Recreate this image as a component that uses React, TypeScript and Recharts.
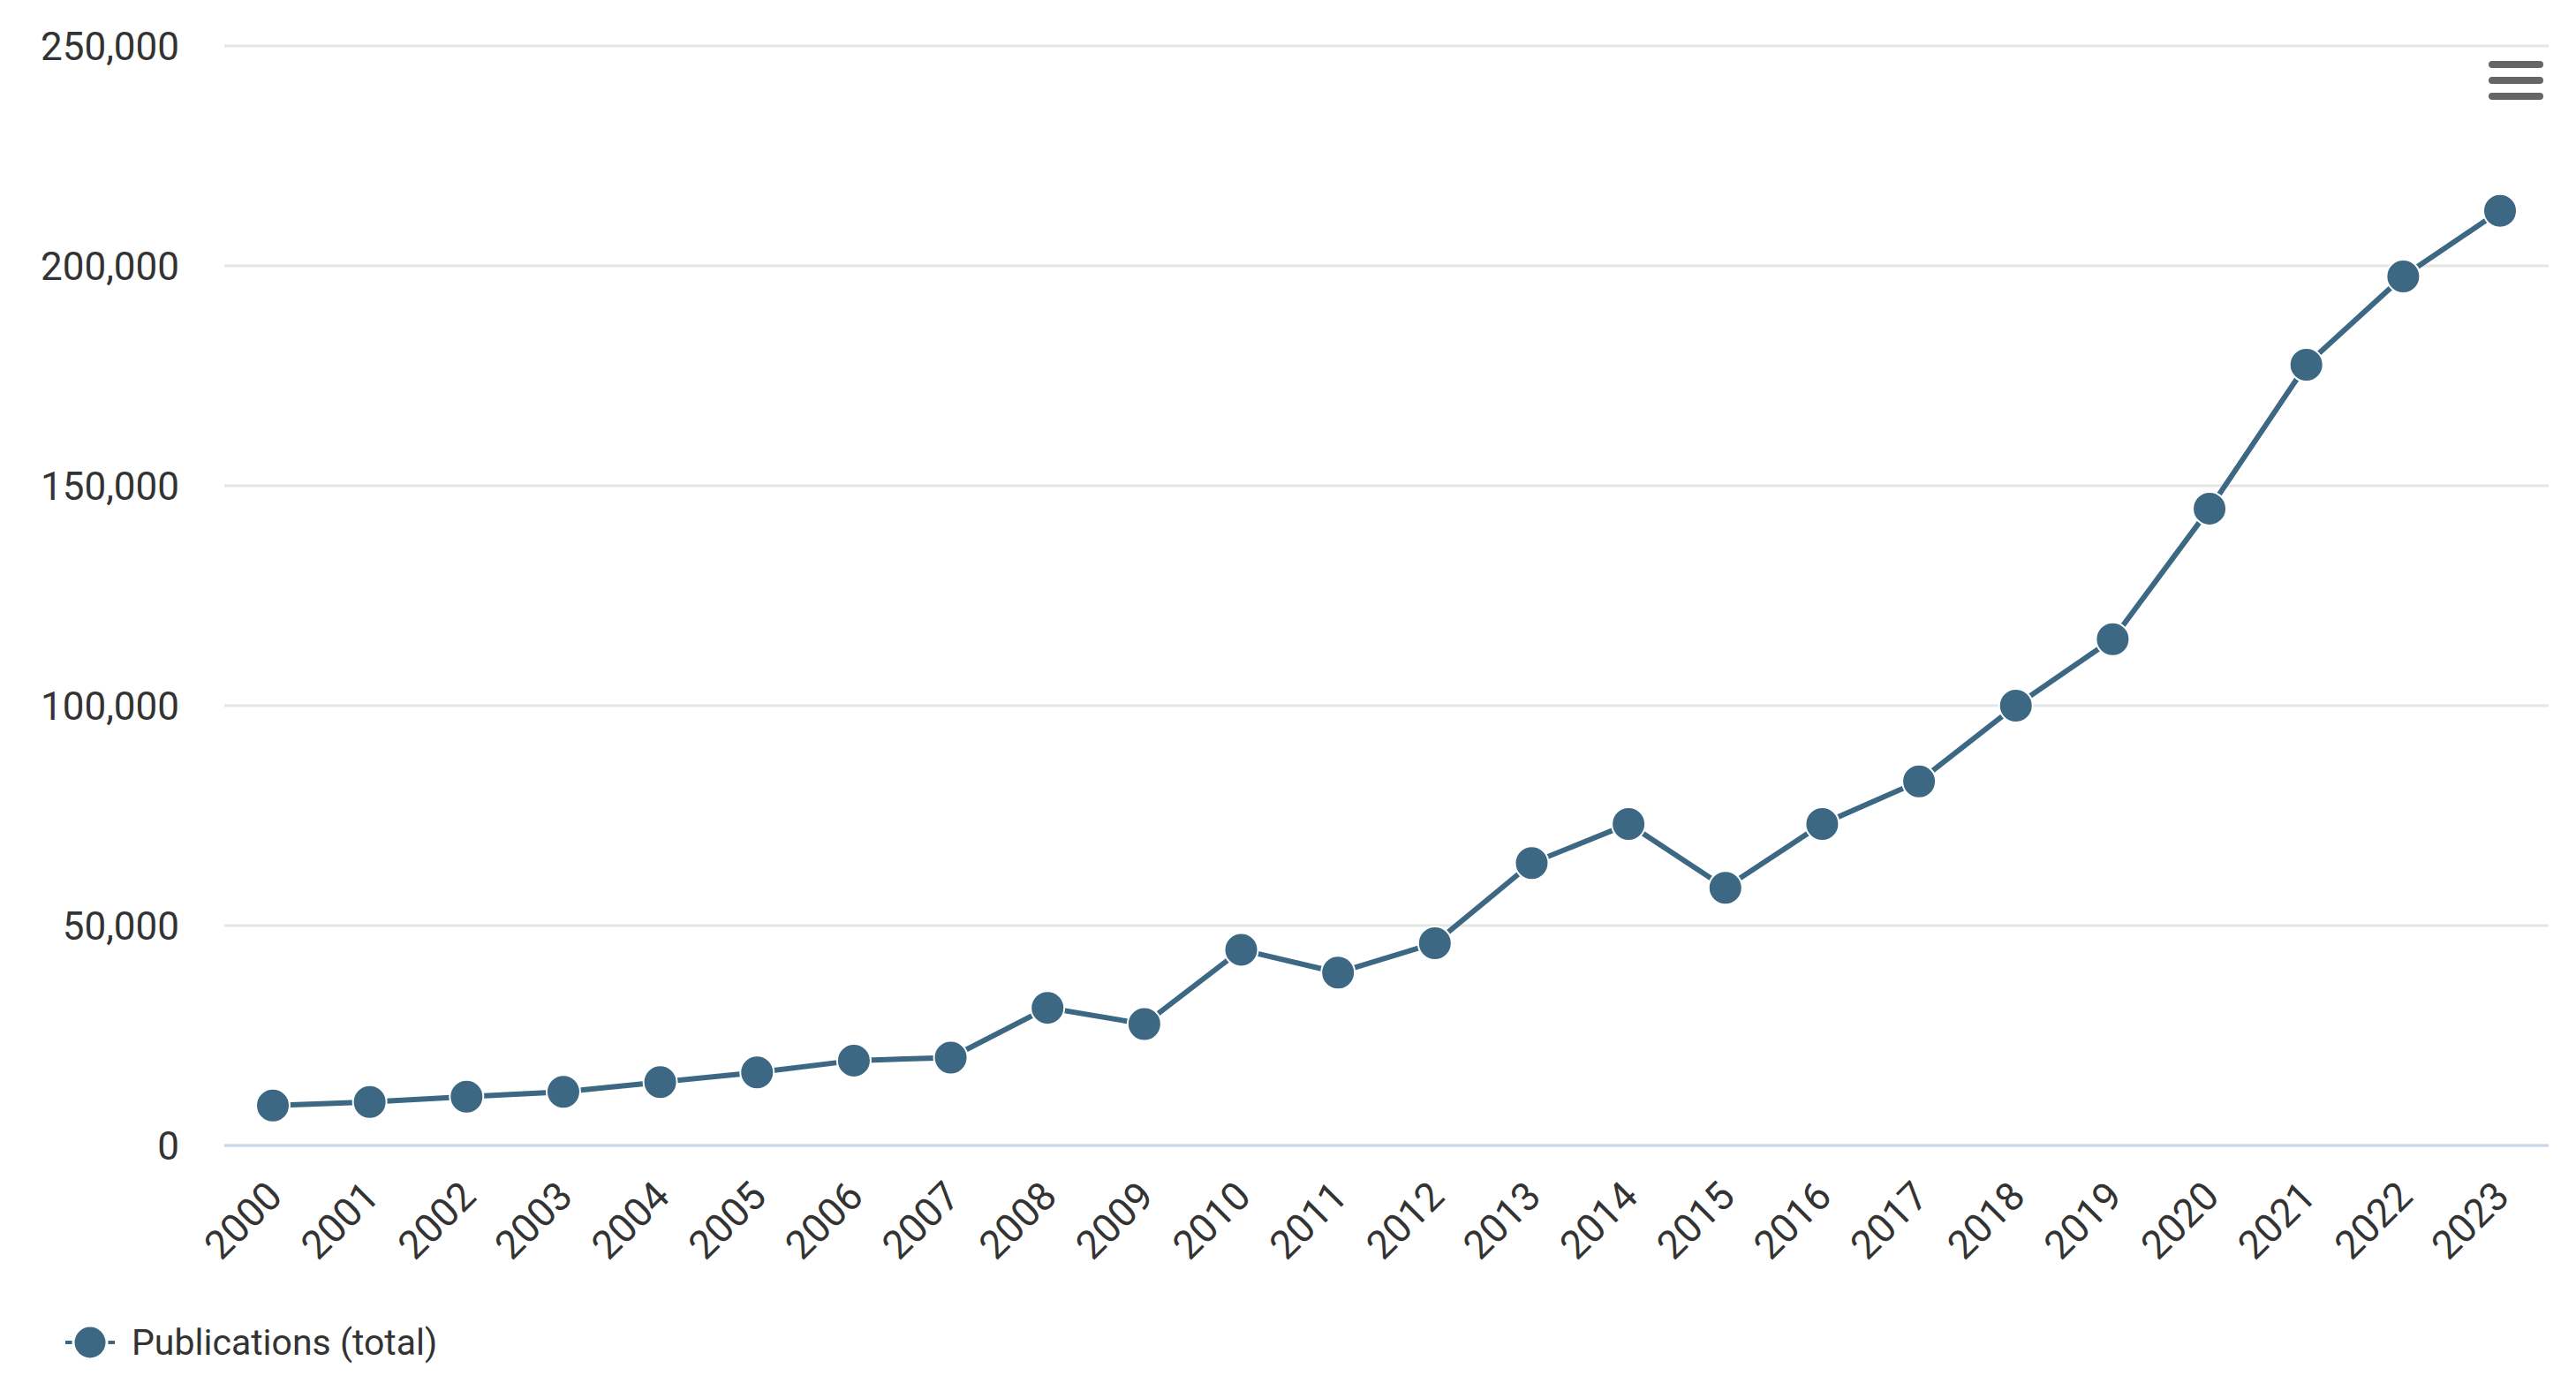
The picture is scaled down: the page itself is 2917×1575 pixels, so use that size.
import React from 'react';
import { LineChart, Line, XAxis, YAxis, CartesianGrid, Legend } from 'recharts';

const years = ['2000','2001','2002','2003','2004','2005','2006','2007','2008','2009','2010','2011','2012','2013','2014','2015','2016','2017','2018','2019','2020','2021','2022','2023'];
const publications = [9100, 9900, 11100, 12200, 14400, 16600, 19300, 20000, 31300, 27600, 44500, 39300, 46000, 64200, 73100, 58600, 73100, 82800, 100000, 115100, 144800, 177500, 197600, 212500];
const yTicks = [0, 50000, 100000, 150000, 200000, 250000];
const seriesName = 'Publications (total)';

const data = years.map((y, i) => ({ year: y, value: publications[i] }));

const COLOR = '#3c6884';
const FONT = 'Roboto, "Noto Sans", sans-serif';

const XTick = (props: any) => {
  const { x, y, payload } = props;
  const ax = x + 13;
  const ay = y + 60;
  return (
    <text x={ax} y={ay} textAnchor="end" fontSize={45} fill="#333" fontFamily={FONT} transform={`rotate(-45, ${ax}, ${ay})`}>
      {payload.value}
    </text>
  );
};

const LegendContent = () => (
  <div style={{ display: 'flex', alignItems: 'center', height: 80, paddingLeft: 72, fontFamily: FONT }}>
    <svg width={60} height={44} style={{ display: 'block' }}>
      <line x1={2} y1={22} x2={58} y2={22} stroke={COLOR} strokeWidth={4} />
      <circle cx={30} cy={22} r={19} fill={COLOR} stroke="#fff" strokeWidth={3} />
    </svg>
    <span style={{ marginLeft: 17, fontSize: 41, color: '#333', lineHeight: '44px' }}>{seriesName}</span>
  </div>
);

export default function App() {
  return (
    <div style={{ position: 'absolute', left: 0, top: 0, width: 2917, height: 1575, background: '#fff', fontFamily: FONT }}>
      <LineChart width={2917} height={1575} data={data} margin={{ top: 52, right: 31, bottom: 15, left: 0 }}>
        <CartesianGrid vertical={false} stroke="#e6e6e6" strokeWidth={3} />
        <XAxis
          dataKey="year"
          interval={0}
          padding={{ left: 55, right: 55 }}
          axisLine={{ stroke: '#ccd6eb', strokeWidth: 3 }}
          tickLine={false}
          tickSize={0}
          tickMargin={0}
          height={183}
          tick={<XTick />}
        />
        <YAxis
          width={254}
          domain={[0, 250000]}
          ticks={yTicks}
          axisLine={false}
          tickLine={false}
          tickSize={0}
          tickMargin={51}
          tick={{ fontSize: 44, fill: '#333', fontFamily: FONT }}
          tickFormatter={(v: number) => v.toLocaleString('en-US')}
        />
        <Legend verticalAlign="bottom" align="left" content={<LegendContent />} />
        <Line
          type="linear"
          dataKey="value"
          name={seriesName}
          stroke={COLOR}
          strokeWidth={6}
          dot={{ r: 19, fill: COLOR, stroke: '#fff', strokeWidth: 2 }}
          activeDot={false}
          isAnimationActive={false}
        />
      </LineChart>
      <svg style={{ position: 'absolute', left: 2800, top: 55, width: 100, height: 80 }}>
        <line x1={22} y1={18} x2={76} y2={18} stroke="#666" strokeWidth={8} strokeLinecap="round" />
        <line x1={22} y1={36} x2={76} y2={36} stroke="#666" strokeWidth={8} strokeLinecap="round" />
        <line x1={22} y1={54} x2={76} y2={54} stroke="#666" strokeWidth={8} strokeLinecap="round" />
      </svg>
    </div>
  );
}
